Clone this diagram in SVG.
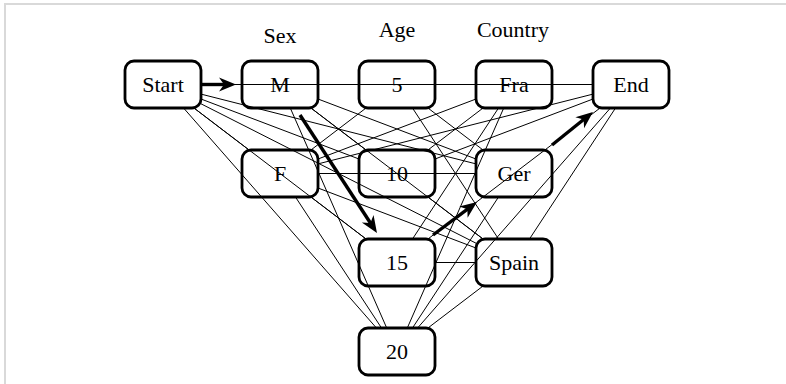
<svg xmlns="http://www.w3.org/2000/svg" width="786" height="384" viewBox="0 0 786 384">
<style>
.frame{fill:none;stroke:#d9d9d9;stroke-width:2}
.box{fill:none;stroke:#000;stroke-width:2.8}
.lbl{font-family:'Liberation Serif','Times New Roman','DejaVu Serif',serif;font-size:22px;fill:#000;text-anchor:middle}
.e line{stroke:#000;stroke-width:1;fill:none}
.b line{stroke:#000;stroke-width:3.4;fill:none}
</style>
<defs>
<marker id="ah" markerUnits="userSpaceOnUse" viewBox="-12 -9 19 18" refX="0" refY="0" markerWidth="19" markerHeight="18" orient="auto">
<path d="M6,0 L-11,-7 L-6,0 L-11,7 Z" fill="#000"/>
</marker>
</defs>
<rect class="frame" x="5" y="4" width="800" height="400"/>
<g id="headers">
<text class="lbl" x="280" y="42.5">Sex</text>
<text class="lbl" x="397" y="37">Age</text>
<text class="lbl" x="513" y="37">Country</text>
</g>
<g id="connectors">
<g class="e">
<line x1="194.6" y1="108.5" x2="248.4" y2="149.5"/>
<line x1="201" y1="84.5" x2="359" y2="84.5"/>
<line x1="201" y1="99" x2="359" y2="159"/>
<line x1="194.6" y1="108.5" x2="365.4" y2="238.5"/>
<line x1="184" y1="108.5" x2="376" y2="327.5"/>
<line x1="201" y1="84.5" x2="476" y2="84.5"/>
<line x1="201" y1="94.1" x2="476" y2="163.9"/>
<line x1="201" y1="103.8" x2="476" y2="243.2"/>
<line x1="201" y1="84.5" x2="593" y2="84.5"/>
<line x1="318" y1="84.5" x2="359" y2="84.5"/>
<line x1="311.6" y1="108.5" x2="365.4" y2="149.5"/>
<line x1="290.5" y1="108.5" x2="386.5" y2="327.5"/>
<line x1="318" y1="84.5" x2="476" y2="84.5"/>
<line x1="318" y1="99" x2="476" y2="159"/>
<line x1="311.6" y1="108.5" x2="482.4" y2="238.5"/>
<line x1="318" y1="84.5" x2="593" y2="84.5"/>
<line x1="311.6" y1="149.5" x2="365.4" y2="108.5"/>
<line x1="318" y1="173.5" x2="359" y2="173.5"/>
<line x1="311.6" y1="197.5" x2="365.4" y2="238.5"/>
<line x1="295.8" y1="197.5" x2="381.2" y2="327.5"/>
<line x1="318" y1="159" x2="476" y2="99"/>
<line x1="318" y1="173.5" x2="476" y2="173.5"/>
<line x1="318" y1="188" x2="476" y2="248"/>
<line x1="318" y1="163.9" x2="593" y2="94.1"/>
<line x1="435" y1="84.5" x2="476" y2="84.5"/>
<line x1="428.6" y1="108.5" x2="482.4" y2="149.5"/>
<line x1="412.8" y1="108.5" x2="498.2" y2="238.5"/>
<line x1="435" y1="84.5" x2="593" y2="84.5"/>
<line x1="428.6" y1="149.5" x2="482.4" y2="108.5"/>
<line x1="435" y1="173.5" x2="476" y2="173.5"/>
<line x1="428.6" y1="197.5" x2="482.4" y2="238.5"/>
<line x1="435" y1="159" x2="593" y2="99"/>
<line x1="412.8" y1="238.5" x2="498.2" y2="108.5"/>
<line x1="435" y1="262.5" x2="476" y2="262.5"/>
<line x1="428.6" y1="238.5" x2="599.4" y2="108.5"/>
<line x1="407.5" y1="327.5" x2="503.5" y2="108.5"/>
<line x1="412.8" y1="327.5" x2="498.2" y2="197.5"/>
<line x1="428.6" y1="327.5" x2="482.4" y2="286.5"/>
<line x1="418" y1="327.5" x2="610" y2="108.5"/>
<line x1="552" y1="84.5" x2="593" y2="84.5"/>
<line x1="529.8" y1="238.5" x2="615.2" y2="108.5"/>
</g>
<g class="b">
<line x1="200" y1="84.5" x2="230" y2="84.5" marker-end="url(#ah)"/>
<line x1="300" y1="115" x2="373.7" y2="228" marker-end="url(#ah)"/>
<line x1="433" y1="235" x2="472.2" y2="205.6" marker-end="url(#ah)"/>
<line x1="552" y1="145" x2="588.3" y2="115.8" marker-end="url(#ah)"/>
</g>
</g>
<g id="n-start"><rect class="box" x="125" y="61" width="76" height="47" rx="9"/><text class="lbl" x="163" y="92">Start</text></g>
<g id="n-m"><rect class="box" x="242" y="61" width="76" height="47" rx="9"/><text class="lbl" x="280" y="92">M</text></g>
<g id="n-f"><rect class="box" x="242" y="150" width="76" height="47" rx="9"/><text class="lbl" x="280" y="181">F</text></g>
<g id="n-5"><rect class="box" x="359" y="61" width="76" height="47" rx="9"/><text class="lbl" x="397" y="92">5</text></g>
<g id="n-10"><rect class="box" x="359" y="150" width="76" height="47" rx="9"/><text class="lbl" x="397" y="181">10</text></g>
<g id="n-15"><rect class="box" x="359" y="239" width="76" height="47" rx="9"/><text class="lbl" x="397" y="270">15</text></g>
<g id="n-20"><rect class="box" x="359" y="328" width="76" height="47" rx="9"/><text class="lbl" x="397" y="359">20</text></g>
<g id="n-fra"><rect class="box" x="476" y="61" width="76" height="47" rx="9"/><text class="lbl" x="514" y="92">Fra</text></g>
<g id="n-ger"><rect class="box" x="476" y="150" width="76" height="47" rx="9"/><text class="lbl" x="514" y="181">Ger</text></g>
<g id="n-spain"><rect class="box" x="476" y="239" width="76" height="47" rx="9"/><text class="lbl" x="514" y="270">Spain</text></g>
<g id="n-end"><rect class="box" x="593" y="61" width="76" height="47" rx="9"/><text class="lbl" x="631" y="92">End</text></g>
</svg>
